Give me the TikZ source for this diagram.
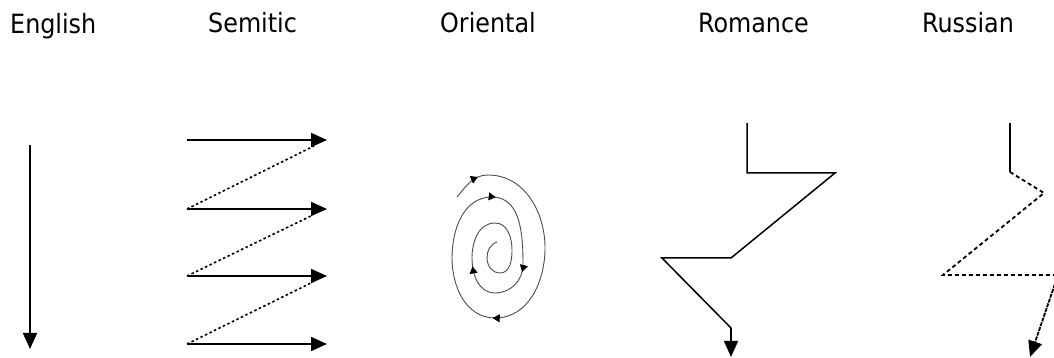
\documentclass[tikz,border=0pt]{standalone}
\usepackage{fontspec}
\setmainfont{DejaVu Sans Condensed}
\usetikzlibrary{arrows.meta,decorations.markings}
\tikzset{
  lbl/.style={anchor=base west, inner sep=0pt, font=\fontsize{26.5}{30}\selectfont},
  bigtip/.style={-{Triangle[length=16pt,width=14pt]}},
  thick2/.style={line width=1.8pt},
  dotline/.style={line width=1.6pt, dash pattern=on 2.5pt off 2.5pt},
  rusdash/.style={line width=1.8pt, dash pattern=on 4pt off 3pt},
  romline/.style={line width=1.5pt, line join=miter},
  spiral/.style={line width=0.9pt, draw=black!70},
  sptip/.style={decoration={markings,
     mark=at position 0.040 with {\arrow[black]{Triangle[length=7pt,width=8pt]}},
     mark=at position 0.330 with {\arrow[black]{Triangle[length=7pt,width=8pt]}},
     mark=at position 0.556 with {\arrow[black]{Triangle[length=7pt,width=8pt]}},
     mark=at position 0.675 with {\arrow[black]{Triangle[length=7pt,width=8pt]}},
     mark=at position 0.778 with {\arrow[black]{Triangle[length=7pt,width=8pt]}}},
     postaction={decorate}}
}
\begin{document}
\begin{tikzpicture}[x=1pt,y=1pt]
\useasboundingbox (0,0) rectangle (1054,358);
\clip (0,0) rectangle (1054,358);
% labels
\node[lbl] (lEng) at (10,324) {English};
\node[lbl] (lSem) at (208,325) {Semitic};
\node[lbl] (lOri) at (440,325) {Oriental};
\node[lbl] (lRom) at (698,325) {Romance};
\node[lbl] (lRus) at (922,325) {Russian};
% English
\coordinate (e1) at (30,213);
\coordinate (e2) at (30,9);
\draw[thick2,bigtip] (e1) -- (e2);
% Semitic
\coordinate (s1a) at (187,218); \coordinate (s1b) at (327,218);
\coordinate (s2a) at (187,149); \coordinate (s2b) at (327,149);
\coordinate (s3a) at (187,82);  \coordinate (s3b) at (327,82);
\coordinate (s4a) at (187,14);  \coordinate (s4b) at (327,14);
\coordinate (d1) at (314,212);
\coordinate (d2) at (313,143);
\coordinate (d3) at (313,76);
\draw[thick2,bigtip] (s1a) -- (s1b);
\draw[thick2,bigtip] (s2a) -- (s2b);
\draw[thick2,bigtip] (s3a) -- (s3b);
\draw[thick2,bigtip] (s4a) -- (s4b);
\draw[dotline] (s2a) -- (d1);
\draw[dotline] (s3a) -- (d2);
\draw[dotline] (s4a) -- (d3);
% Oriental spiral
\coordinate (oS) at (457,161);
\coordinate (oT1) at (488,183);
\coordinate (oR1) at (545,110);
\coordinate (oB1) at (495,40);
\coordinate (oL1) at (452,100);
\coordinate (oT2) at (492,161);
\coordinate (oR2) at (523,93);
\coordinate (oB2) at (495,65);
\coordinate (oL2) at (472,100);
\coordinate (oT3) at (495,135);
\coordinate (oR3) at (512,108);
\coordinate (oB3) at (500,85);
\coordinate (oL3) at (487,100);
\coordinate (oE) at (497,116);
\draw[spiral,sptip] (oS) to[out=50,in=180] (oT1) to[out=0,in=90] (oR1)
  to[out=-90,in=0] (oB1) to[out=180,in=-90] (oL1) to[out=90,in=180] (oT2)
  to[out=0,in=90] (oR2) to[out=-90,in=0] (oB2) to[out=180,in=-90] (oL2)
  to[out=90,in=180] (oT3) to[out=0,in=90] (oR3) to[out=-90,in=0] (oB3)
  to[out=180,in=-90] (oL3) to[out=90,in=200] (oE);
% Romance
\coordinate (r1) at (747,235);
\coordinate (r2) at (747,185);
\coordinate (r3) at (835,185);
\coordinate (r4) at (731,100);
\coordinate (r5) at (662,100);
\coordinate (r6) at (731,30);
\coordinate (r7) at (731,1);
\draw[romline] (r1) -- (r2) -- (r3) -- (r4) -- (r5) -- (r6);
\draw[romline,bigtip] (r6) -- (r7);
% Russian
\coordinate (u1) at (1010,235);
\coordinate (u2) at (1010,186);
\coordinate (u3) at (1044,165);
\coordinate (u4) at (943,83);
\coordinate (u5) at (1058,83);
\coordinate (u6) at (1030,1);
\draw[line width=1.8pt] (u1) -- (u2);
\draw[rusdash] (u2) -- (u3) -- (u4) -- (u5);
\draw[line width=1.8pt, dash pattern=on 4pt off 1pt, bigtip] (u5) -- (u6);
\end{tikzpicture}
\end{document}
